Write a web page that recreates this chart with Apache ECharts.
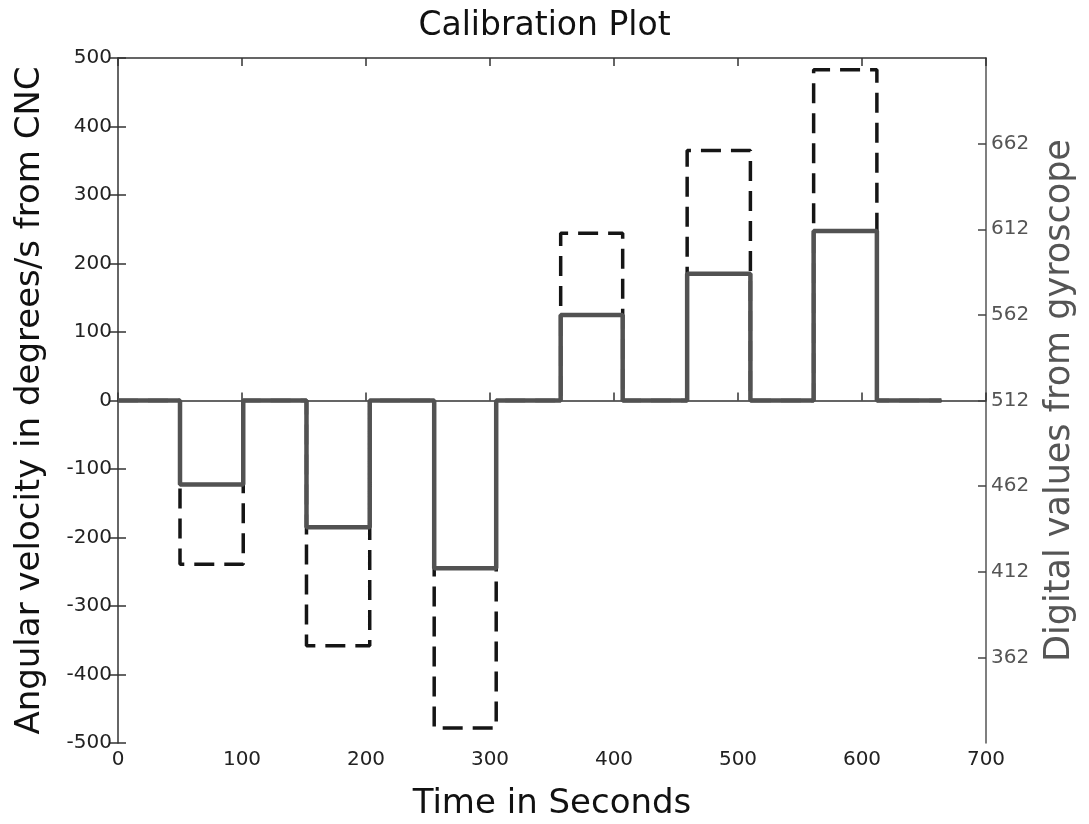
<!DOCTYPE html>
<html>
<head>
<meta charset="utf-8">
<script src="https://cdn.jsdelivr.net/npm/echarts@6/dist/echarts.min.js"></script>
<style>
html,body{margin:0;padding:0;background:#fff;}
#chart{width:1089px;height:824px;}
</style>
</head>
<body>
<div id="chart"></div>
<script>
// ---- data ----
var segmentBounds = [0, 50, 101, 152, 203, 255, 305, 357, 407, 459, 510, 561, 612, 664]; // seconds
var cncLevels  = [0, -239, 0, -358, 0, -478, 0, 244, 0, 365, 0, 483, 0];      // deg/s (left axis)
var gyroLevels = [512, 463, 512, 438, 512, 414, 512, 562, 512, 586, 512, 611, 512]; // digital (right axis)
var xTicks = [0, 100, 200, 300, 400, 500, 600, 700];
var leftTicks = [-500, -400, -300, -200, -100, 0, 100, 200, 300, 400, 500];
var rightTickLabels = [362, 412, 462, 512, 562, 612, 662];

function stepData(bounds, levels) {
  var out = [];
  for (var i = 0; i < levels.length; i++) {
    out.push([bounds[i], levels[i]]);
    out.push([bounds[i + 1], levels[i]]);
  }
  return out;
}

var FONT = 'DejaVu Sans';
var chart = echarts.init(document.getElementById('chart'), null, {renderer: 'canvas'});
var axisLineStyle = {color: '#333', width: 1.5};
var option = {
  animation: false,
  backgroundColor: '#fff',
  title: {
    text: 'Calibration Plot',
    left: 'center',
    top: 5,
    textStyle: {fontFamily: FONT, fontSize: 33, fontWeight: 'normal', color: '#111'}
  },
  grid: {left: 118, right: 103, top: 58, bottom: 81, containLabel: false, outerBoundsMode: 'none'},
  xAxis: [{
    type: 'value', position: 'bottom', min: 0, max: 700, interval: 100,
    name: 'Time in Seconds', nameLocation: 'middle', nameGap: 44,
    nameTextStyle: {fontFamily: FONT, fontSize: 34, color: '#111'},
    axisLine: {show: true, lineStyle: axisLineStyle},
    axisTick: {show: true, inside: true, length: 8, lineStyle: axisLineStyle},
    axisLabel: {fontFamily: FONT, fontSize: 20, color: '#222', margin: 7,
      formatter: function (v) { return xTicks.indexOf(v) >= 0 ? String(v) : ''; }},
    splitLine: {show: false}
  }, {
    type: 'value', position: 'top', min: 0, max: 700, interval: 100,
    axisLine: {show: true, onZero: false, lineStyle: axisLineStyle},
    axisTick: {show: true, inside: true, length: 8, lineStyle: axisLineStyle},
    axisLabel: {show: false},
    splitLine: {show: false}
  }],
  yAxis: [{
    type: 'value', position: 'left', min: -500, max: 500, interval: 100,
    name: 'Angular velocity in degrees/s from CNC', nameLocation: 'middle', nameGap: 71,
    nameTextStyle: {fontFamily: FONT, fontSize: 34, color: '#111'},
    axisLine: {show: true, onZero: false, lineStyle: axisLineStyle},
    axisTick: {show: true, inside: true, length: 8, lineStyle: axisLineStyle},
    axisLabel: {fontFamily: FONT, fontSize: 20, color: '#222', margin: 6,
      formatter: function (v) { return leftTicks.indexOf(v) >= 0 ? String(v) : ''; }},
    splitLine: {show: false}
  }, {
    type: 'value', position: 'right', min: 312, max: 712,
    name: 'Digital values from gyroscope', nameLocation: 'middle', nameGap: 56,
    nameTextStyle: {fontFamily: FONT, fontSize: 35, color: '#555'},
    axisLine: {show: true, onZero: false, lineStyle: {color: '#555', width: 1.5}},
    axisTick: {show: true, inside: true, length: 8, customValues: rightTickLabels, lineStyle: {color: '#444', width: 1.5}},
    axisLabel: {fontFamily: FONT, fontSize: 20, color: '#555', margin: 5, customValues: rightTickLabels},
    splitLine: {show: false}
  }, {
    type: 'value', position: 'right', min: -500, max: 500, interval: 100,
    axisLine: {show: false},
    axisTick: {show: true, inside: true, length: 8, lineStyle: axisLineStyle},
    axisLabel: {show: false},
    splitLine: {show: false}
  }],
  series: [{
    name: 'CNC', type: 'line', xAxisIndex: 0, yAxisIndex: 0,
    data: stepData(segmentBounds, cncLevels),
    showSymbol: false, symbol: 'none', z: 2,
    lineStyle: {color: '#151515', width: 3.5, type: [20, 10]}
  }, {
    name: 'Gyroscope', type: 'line', xAxisIndex: 0, yAxisIndex: 1,
    data: stepData(segmentBounds, gyroLevels),
    showSymbol: false, symbol: 'none', z: 3,
    lineStyle: {color: '#525252', width: 4.5}
  }]
};
chart.setOption(option);
</script>
</body>
</html>
